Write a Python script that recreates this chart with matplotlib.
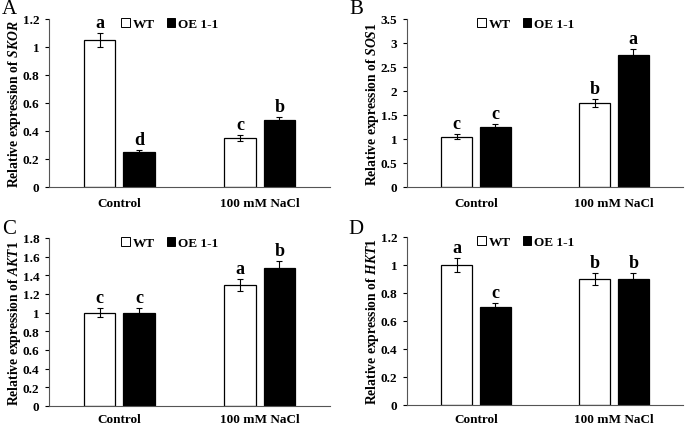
import numpy as np
import matplotlib
matplotlib.use("Agg")
from matplotlib import pyplot as plt
from matplotlib.patches import Patch

plt.rcParams['font.family'] = ['Liberation Serif', 'DejaVu Serif']
plt.rcParams['font.weight'] = 'bold'
plt.rcParams['mathtext.fontset'] = 'custom'
plt.rcParams['mathtext.it'] = 'Liberation Serif:italic:bold'
plt.rcParams['mathtext.rm'] = 'Liberation Serif:bold'

categories = ['Control', '100 mM NaCl']
series = ['WT', 'OE 1-1']

genes = ['SKOR', 'SOS1', 'AKT1', 'HKT1']
panel_tags = ['A', 'B', 'C', 'D']

wt_vals = [[1.05, 0.35], [1.05, 1.75], [1.0, 1.30], [1.0, 0.90]]
oe_vals = [[0.25, 0.48], [1.25, 2.75], [1.0, 1.48], [0.70, 0.90]]
wt_err = [[0.05, 0.02], [0.05, 0.09], [0.05, 0.065], [0.05, 0.045]]
oe_err = [[0.012, 0.022], [0.06, 0.13], [0.05, 0.07], [0.03, 0.045]]
wt_letters = [['a', 'c'], ['c', 'b'], ['c', 'a'], ['a', 'b']]
oe_letters = [['d', 'b'], ['c', 'a'], ['c', 'b'], ['c', 'b']]

ymax = [1.2, 3.5, 1.8, 1.2]
ystep = [0.2, 0.5, 0.2, 0.2]

W, H = 685, 427
# axes boxes in pixels: left, right, top, bottom
boxes = [(49, 330, 20, 188), (407, 683, 20, 188),
         (49, 330, 239, 407), (407, 683, 238, 406)]
tag_pos = [(2, 10), (349, 10), (2, 230), (348, 230)]
xlab_pad = [7.5, 7.5, 5, 5.5]

fig = plt.figure(figsize=(W / 100, H / 100), dpi=100)

x = np.arange(len(categories))
bw = 0.225
off = 0.14

for i in range(4):
    l, r, t, b = boxes[i]
    ax = fig.add_axes([l / W, (H - b) / H, (r - l) / W, (b - t) / H])

    ax.bar(x - off, wt_vals[i], bw, color='white', edgecolor='black', linewidth=0.9,
           yerr=wt_err[i], error_kw=dict(ecolor='black', elinewidth=0.8, capsize=2.5, capthick=0.8))
    ax.bar(x + off, oe_vals[i], bw, color='black', edgecolor='black', linewidth=0.9,
           yerr=oe_err[i], error_kw=dict(ecolor='black', elinewidth=0.8, capsize=2.5, capthick=0.8))

    for j in range(len(categories)):
        ax.annotate(wt_letters[i][j], (x[j] - off, wt_vals[i][j] + wt_err[i][j]),
                    xytext=(0, 1.5), textcoords='offset points', ha='center', va='bottom',
                    fontsize=13, fontweight='bold')
        ax.annotate(oe_letters[i][j], (x[j] + off, oe_vals[i][j] + oe_err[i][j]),
                    xytext=(0, 1.5), textcoords='offset points', ha='center', va='bottom',
                    fontsize=13, fontweight='bold')

    ax.set_xlim(-0.5, 1.5)
    ax.set_ylim(0, ymax[i])
    ticks = np.round(np.arange(0, ymax[i] + 1e-9, ystep[i]), 2)
    ax.set_yticks(ticks)
    ax.set_yticklabels(['%g' % v for v in ticks])
    ax.set_xticks(x)
    ax.set_xticklabels(categories)
    ax.tick_params(axis='x', length=0, pad=xlab_pad[i], labelsize=9.5)
    ax.tick_params(axis='y', length=3, width=0.8, direction='out', pad=4, labelsize=9.5)
    for sp in ['top', 'right']:
        ax.spines[sp].set_visible(False)
    ax.spines['left'].set_color('#555555')
    ax.spines['bottom'].set_color('#555555')
    ax.spines['left'].set_linewidth(0.8)
    ax.spines['bottom'].set_linewidth(0.8)

    ax.set_ylabel('Relative expression of $\\mathit{%s}$' % genes[i], fontsize=9.8,
                  fontweight='bold')
    ax.yaxis.set_label_coords(-26 / (r - l), 0.5)

    handles = [Patch(facecolor='white', edgecolor='black', linewidth=0.7),
               Patch(facecolor='black', edgecolor='black', linewidth=0.7)]
    ax.legend(handles, series, loc='center', bbox_to_anchor=(0.43, 0.97), ncol=2,
              frameon=False, handlelength=0.65, handleheight=0.65,
              handletextpad=0.2, columnspacing=0.9, borderpad=0,
              prop=dict(weight='bold', size=9.5))

    fig.text(tag_pos[i][0] / W, 1 - tag_pos[i][1] / H, panel_tags[i], fontsize=15,
             fontweight='normal', ha='left', va='center')

fig.savefig('out.png', dpi=100)
